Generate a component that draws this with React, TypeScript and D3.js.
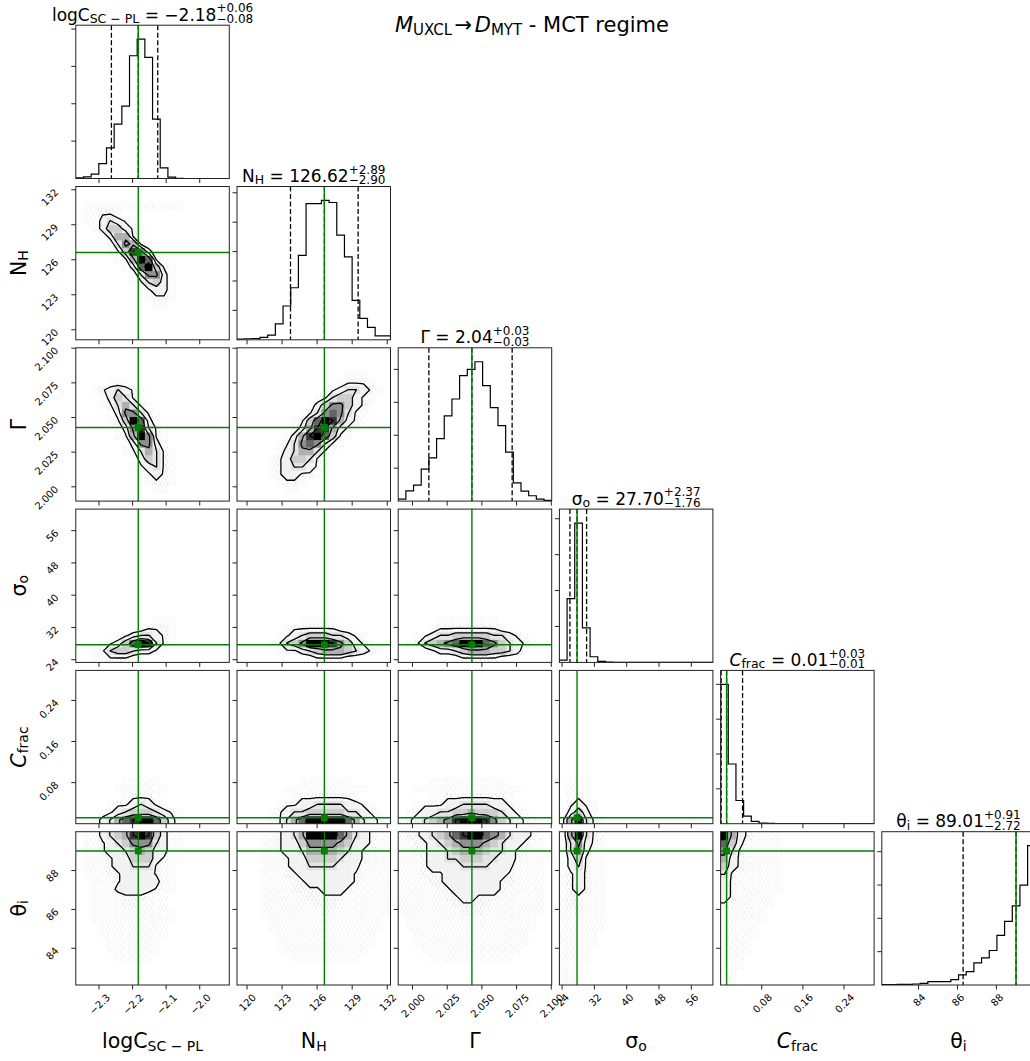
import React from 'react';
import * as d3 from 'd3';

const FIG_W = 1030;
const FIG_H = 1061;
const FONT = '"DejaVu Sans", "Liberation Sans", sans-serif';
const GREEN = '#008000';

// ---- parameters: logC_SC-PL, N_H, Gamma, sigma_o, C_frac, theta_i ----
const PARAM_RANGES: [number, number][] = [
  [-2.369, -1.912],
  [119.14, 132.28],
  [1.9897, 2.1003],
  [23.33, 61.35],
  [0.0, 0.2985],
  [82.11, 90.0],
];
const MEDIANS = [-2.183, 126.62, 2.0428, 27.7, 0.0117, 89.01];
const ERR_MINUS = [0.08, 2.9, 0.031, 1.76, 0.0107, 2.72];
const ERR_PLUS = [0.058, 2.89, 0.029, 2.37, 0.031, 0.91];

const TICKS_LOGC = [-2.3, -2.2, -2.1, -2.0];
const TICKS_NH = [120, 123, 126, 129, 132];
const TICKS_GAMMA = [2.0, 2.025, 2.05, 2.075, 2.1];
const TICKS_SIGMA = [24, 32, 40, 48, 56];
const TICKS_CFRAC = [0.08, 0.16, 0.24];
const TICKS_THETA = [84, 86, 88];
const PARAM_TICKS = [TICKS_LOGC, TICKS_NH, TICKS_GAMMA, TICKS_SIGMA, TICKS_CFRAC, TICKS_THETA];
const TICK_DECIMALS = [1, 0, 3, 0, 2, 0];

const LABEL_MAIN = ['logC', 'N', 'Γ', 'σ', 'C', 'θ'];
const LABEL_SUB = ['SC \u2212 PL', 'H', '', 'o', 'frac', 'i'];
const LABEL_ITALIC = [false, false, false, false, true, false];

// ---- 1D marginal histograms (20 bins over each range) ----
const HIST_LOGC = [30, 90, 230, 800, 1640, 2910, 3870, 6570, 7460, 6480, 3180, 570, 70, 5, 0, 0, 0, 0, 0, 0];
const HIST_NH = [20, 35, 45, 80, 160, 540, 1150, 1770, 2870, 4630, 4630, 4740, 4670, 3560, 2820, 1340, 730, 420, 135, 135];
const HIST_GAMMA = [61, 313, 485, 970, 1313, 1899, 2586, 3101, 3808, 4000, 4232, 3505, 2838, 2293, 1485, 556, 303, 162, 61, 20];
const HIST_SIGMA = [324, 8890, 19400, 4815, 787, 139, 40, 10, 5, 0, 0, 0, 0, 0, 0, 0, 0, 0, 0, 0];
const HIST_CFRAC = [20000, 8570, 3330, 1095, 333, 95, 40, 20, 10, 5, 0, 0, 0, 0, 0, 0, 0, 0, 0, 0];
const HIST_THETA = [20, 20, 40, 40, 60, 100, 200, 200, 200, 322, 603, 804, 1327, 1628, 2070, 2975, 3819, 4744, 5990, 8362];
const HISTS = [HIST_LOGC, HIST_NH, HIST_GAMMA, HIST_SIGMA, HIST_CFRAC, HIST_THETA];

// ---- 2D densities: rows from top bin (yTop) downward, columns from bin x0.
// digits = relative counts, '.' = sparse samples ----
const GRID_NH_LOGC = { x0: 1, yTop: 17, rows: [
  '.............', '..11.00000000', '..2321.000000', '0.24421.00000', '00.2551.00000',
  '000.3651.0000', '000.14862.000', '0000.15971.00', '00000.27941.0', '000000.3662.0',
  '000000.1342.0', '0000000.122.0', '00000000.11.0', '000000000..00',
] };
const GRID_GAMMA_LOGC = { x0: 2, yTop: 15, rows: [
  '00...000000', '.12321.0000', '0.2431.0000', '0.13531.000', '00.26631.00',
  '00.14972.00', '000.26831.0', '000.15961.0', '0000.2662.0', '0000.13531.',
  '00000.2431.', '00000.1231.', '000000.121.', '0000000.11.', '00000000..0',
] };
const GRID_GAMMA_NH = { x0: 4, yTop: 16, rows: [
  '0000000000...00', '000000000.111.0', '0000000.123321.', '000000.134421.0',
  '00000.2466421.0', '0000.1367631.00', '000.14798521.00', '000.2588521.000',
  '00.2589741.0000', '0.1367631.00000', '0.235531.000000', '.124431.0000000',
  '.123321.0000000', '.12211.00000000', '0.11.0000000000', '00..00000000000',
] };
const GRID_SIGMA_LOGC = { x0: 2, yTop: 5, rows: [
  '00000000...0', '000000.111.0', '000.123321.0', '0.12479831.0', '.13443221.00', '..111.000000',
] };
const GRID_SIGMA_NH = { x0: 4, yTop: 5, rows: [
  '0000.....000000', '00.111111..0000', '0.1234443321.00', '.134699986421.0',
  '0.112345554321.', '00000.1111.0000',
] };
const GRID_SIGMA_GAMMA = { x0: 1, yTop: 5, rows: [
  '0000........00000', '000.11111111.0000', '0.1233444443321.0', '.134567999764321.',
  '00.122345554432.0', '000000.11111.0000',
] };
const GRID_CFRAC_LOGC = { x0: 2, yTop: 5, rows: [
  '0000.....000', '000.......00', '0000.111.000', '00.112321.00', '0.123444321.', '.2357899742.',
] };
const GRID_CFRAC_NH = { x0: 4, yTop: 5, rows: [
  '0000.......00000', '00...........000', '000.1111111.0000', '0.11223333221.00',
  '.1233444443321.0', '.13579999975321.',
] };
const GRID_CFRAC_GAMMA = { x0: 0, yTop: 5, rows: [
  '0000..........0000', '00..............00', '0000..11111111.000', '00.111223333221.00',
  '0.12233445444321.0', '.1234568999864321.',
] };
const GRID_CFRAC_SIGMA = { x0: 0, yTop: 5, rows: [
  '0...000', '0...000', '0.1.000', '0121.00', '.242.00', '15931.0',
] };
const GRID_THETA_LOGC = { x0: 1, yTop: 19, rows: [
  '..234589842..', '..123466632..', '..122345422..', '...12244421..', '...1223331..0',
  '...1122221..0', '0...122222..0', '0...222221..0', '0....111...00', '0....11....00',
  '0...........0', '0...........0', '00.........00', '00.........00', '000.......000',
  '000.......000', '0000.....0000',
] };
const GRID_THETA_NH = { x0: 3, yTop: 19, rows: [
  '..1235999975321..', '..1224666654221..', '..122355554321...', '...12244443221...',
  '...1223333222....', '...1122222221....', '....112222221....', '....11112221.....',
  '......11111......', '.......111.......', '........1........', '0...............0',
  '0...............0', '00.............00', '00.............00', '000...........000',
  '0000.........0000',
] };
const GRID_THETA_GAMMA = { x0: 0, yTop: 19, rows: [
  '.11234578997653221.', '..112345666543221..', '..112234555433211..', '...1223344433221...',
  '...122223333222....', '...111222222221....', '....11222222211....', '.....112222221.....',
  '......1122111......', '.......11111.......', '........111........', '0.................0',
  '0.................0', '00...............00', '00...............00', '000.............000',
  '0000...........0000',
] };
const GRID_THETA_SIGMA = { x0: 0, yTop: 19, rows: [
  '.5931.0', '.3621.0', '.352..0', '.241..0', '.231..0', '.121..0', '.121..0', '.121..0',
  '.11...0', '.11...0', '..1...0', '......0', '......0', '.....00', '.....00', '....000',
  '....000', '...0000', '...0000', '...0000',
] };
const GRID_THETA_CFRAC = { x0: 0, yTop: 19, rows: [
  '9521....0', '742.....0', '631.....0', '521.....0', '421.....0', '31......0', '21......0',
  '21......0', '21.....00', '1......00', '......000', '......000', '.....0000', '.....0000',
  '....00000', '....00000', '...000000', '...000000', '..0000000', '..0000000',
] };

const GRIDS: Record<string, { x0: number; yTop: number; rows: string[] }> = {
  '1-0': GRID_NH_LOGC,
  '2-0': GRID_GAMMA_LOGC,
  '2-1': GRID_GAMMA_NH,
  '3-0': GRID_SIGMA_LOGC,
  '3-1': GRID_SIGMA_NH,
  '3-2': GRID_SIGMA_GAMMA,
  '4-0': GRID_CFRAC_LOGC,
  '4-1': GRID_CFRAC_NH,
  '4-2': GRID_CFRAC_GAMMA,
  '4-3': GRID_CFRAC_SIGMA,
  '5-0': GRID_THETA_LOGC,
  '5-1': GRID_THETA_NH,
  '5-2': GRID_THETA_GAMMA,
  '5-3': GRID_THETA_SIGMA,
  '5-4': GRID_THETA_CFRAC,
};

// ---- layout ----
const ORIGIN_X = 75.8;
const ORIGIN_Y = 25.2;
const STEP_X = 161.2;
const STEP_Y = 161.3;
const PANEL_W = 153.5;
const PANEL_H = 153.3;
const NBINS = 20;
const TICK_LEN = 4.5;
const TICK_FONT = 10;
const SPARSE = 0.3;
// contour levels at the 0.5, 1, 1.5, 2 sigma density fractions of the peak
const DENSITY_LEVELS = [2, 1.5, 1, 0.5].map((s) => Math.exp(-0.5 * s * s));

const colLeft = (c: number) => ORIGIN_X + c * STEP_X;
const rowTop = (r: number) => ORIGIN_Y + r * STEP_Y;
const xScaleOf = (p: number) =>
  d3.scaleLinear().domain(PARAM_RANGES[p]).range([colLeft(p), colLeft(p) + PANEL_W]);
const yScaleOf = (p: number) =>
  d3.scaleLinear().domain(PARAM_RANGES[p]).range([rowTop(p) + PANEL_H, rowTop(p)]);

// ---- text measuring / rich text ----
let measureCtx: CanvasRenderingContext2D | null = null;
function textWidth(t: string, size: number, italic = false) {
  if (!measureCtx) measureCtx = document.createElement('canvas').getContext('2d');
  if (!measureCtx) return t.length * size * 0.6;
  measureCtx.font = `${italic ? 'italic ' : ''}${size}px "DejaVu Sans"`;
  return measureCtx.measureText(t).width;
}

type Seg = any;
function layoutRuns(segs: Seg[]) {
  const runs: { t: string; x: number; dy: number; size: number; italic?: boolean }[] = [];
  let x = 0;
  for (const s of segs) {
    if (s.gap !== undefined) {
      x += s.gap;
    } else if (s.sup !== undefined) {
      runs.push({ t: s.sup, x, dy: s.supDy, size: s.size });
      runs.push({ t: s.sub, x, dy: s.subDy, size: s.size });
      x += Math.max(textWidth(s.sup, s.size), textWidth(s.sub, s.size));
    } else {
      runs.push({ t: s.t, x, dy: s.dy || 0, size: s.size, italic: s.italic });
      x += textWidth(s.t, s.size, s.italic);
    }
  }
  return { runs, width: x };
}

function Rich({ segs, x, y, rotate = 0 }: { segs: Seg[]; x: number; y: number; rotate?: number }) {
  const { runs, width } = layoutRuns(segs);
  return (
    <g transform={`translate(${x},${y}) rotate(${rotate}) translate(${-width / 2},0)`}>
      {runs.map((r, i) => (
        <text
          key={i}
          x={r.x}
          y={r.dy}
          fontSize={r.size}
          fontStyle={r.italic ? 'italic' : 'normal'}
          fontFamily={FONT}
          fill="#000"
          style={{ whiteSpace: 'pre' }}
        >
          {r.t}
        </text>
      ))}
    </g>
  );
}

function labelSegs(p: number, size: number, subSize: number): Seg[] {
  const segs: Seg[] = [{ t: LABEL_MAIN[p], size, italic: LABEL_ITALIC[p] }];
  if (LABEL_SUB[p]) segs.push({ t: LABEL_SUB[p], size: subSize, dy: size * 0.14 });
  return segs;
}

const minus = (s: string) => s.replace('-', '\u2212');
const fmtTick = (p: number, v: number) => minus(d3.format(`.${TICK_DECIMALS[p]}f`)(v));

// ---- 2D density helpers ----
function buildDensity(spec: { x0: number; yTop: number; rows: string[] }) {
  const n = NBINS;
  const H = new Array(n * n).fill(0);
  spec.rows.forEach((row, r) => {
    const j = spec.yTop - r;
    for (let k = 0; k < row.length; k++) {
      const i = spec.x0 + k;
      const ch = row[k];
      const v = ch === '.' ? SPARSE : +ch;
      if (i >= 0 && i < n && j >= 0 && j < n) H[i + j * n] = v;
    }
  });
  // padded grid (dense bins only); the first ring copies the border bins
  const N = n + 4;
  const P = new Array(N * N).fill(0);
  const at = (i: number, j: number) => {
    const v = H[i + j * n];
    return v > SPARSE ? v : 0;
  };
  for (let j = 0; j < n; j++) {
    for (let i = 0; i < n; i++) P[i + 2 + (j + 2) * N] = at(i, j);
    P[1 + (j + 2) * N] = at(0, j);
    P[N - 2 + (j + 2) * N] = at(n - 1, j);
  }
  for (let i = 0; i < n; i++) {
    P[i + 2 + 1 * N] = at(i, 0);
    P[i + 2 + (N - 2) * N] = at(i, n - 1);
  }
  P[1 + N] = at(0, 0);
  P[N - 2 + N] = at(n - 1, 0);
  P[1 + (N - 2) * N] = at(0, n - 1);
  P[N - 2 + (N - 2) * N] = at(n - 1, n - 1);

  const maxV = d3.max(H) || 1;
  const thresholds = DENSITY_LEVELS.map((l) => l * maxV);
  const contours = d3.contours().size([N, N]).smooth(true).thresholds(thresholds)(P);
  return { H, contours, thresholds, maxV };
}

function contourPathD(mp: any, fx: (c: number) => number, fy: (c: number) => number) {
  let d = '';
  for (const poly of mp.coordinates) {
    for (const ring of poly) {
      ring.forEach(([cx, cy]: number[], k: number) => {
        d += (k ? 'L' : 'M') + fx(cx).toFixed(2) + ',' + fy(cy).toFixed(2);
      });
      d += 'Z';
    }
  }
  return d;
}

const HAZE_DOTS = [
  [1.2, 1.5], [4.6, 0.8], [6.3, 3.9], [2.4, 4.6], [5.1, 6.2], [0.7, 6.8], [3.6, 2.9],
];

function DensityPanel({ r, c }: { r: number; c: number }) {
  const xs = xScaleOf(c);
  const ys = yScaleOf(r);
  const [xlo, xhi] = PARAM_RANGES[c];
  const [ylo, yhi] = PARAM_RANGES[r];
  const bwx = (xhi - xlo) / NBINS;
  const bwy = (yhi - ylo) / NBINS;
  const { H, contours, thresholds, maxV } = buildDensity(GRIDS[`${r}-${c}`]);
  const tOuter = thresholds[0];
  const cells: React.ReactNode[] = [];
  const haze: React.ReactNode[] = [];
  for (let j = 0; j < NBINS; j++) {
    for (let i = 0; i < NBINS; i++) {
      const v = H[i + j * NBINS];
      if (v <= 0) continue;
      const x0 = xs(xlo + i * bwx);
      const x1 = xs(xlo + (i + 1) * bwx);
      const y1 = ys(ylo + j * bwy);
      const y0 = ys(ylo + (j + 1) * bwy);
      if (v < tOuter) {
        haze.push(
          <rect key={`h${i}-${j}`} x={x0} y={y0} width={x1 - x0 + 0.3} height={y1 - y0 + 0.3}
            fill="url(#haze)" opacity={Math.min(1, 0.15 + 0.4 * v)} />
        );
      }
      const h = v / maxV;
      const g = 1 - h * h;
      if (g > 0.985) continue;
      const k = Math.round(255 * g);
      cells.push(
        <rect key={`c${i}-${j}`} x={x0} y={y0} width={x1 - x0 + 0.3} height={y1 - y0 + 0.3}
          fill={`rgb(${k},${k},${k})`} />
      );
    }
  }
  const fx = (cc: number) => xs(xlo + (cc - 2) * bwx);
  const fy = (cc: number) => ys(ylo + (cc - 2) * bwy);
  const left = colLeft(c);
  const top = rowTop(r);
  const tx = xs(MEDIANS[c]);
  const ty = ys(MEDIANS[r]);
  return (
    <g>
      <g clipPath={`url(#clip-${r}-${c})`}>
        {haze}
        {cells}
        {contours.map((mp: any, i: number) => (
          <path key={i} d={contourPathD(mp, fx, fy)} fill="none" stroke="#000" strokeWidth={1.3}
            strokeLinejoin="round" />
        ))}
        <line x1={tx} x2={tx} y1={top} y2={top + PANEL_H} stroke={GREEN} strokeWidth={1.4} />
        <line x1={left} x2={left + PANEL_W} y1={ty} y2={ty} stroke={GREEN} strokeWidth={1.4} />
        <rect x={tx - 3.4} y={ty - 3.4} width={6.8} height={6.8} fill={GREEN} />
      </g>
    </g>
  );
}

function HistPanel({ p }: { p: number }) {
  const xs = xScaleOf(p);
  const counts = HISTS[p];
  const maxC = d3.max(counts) || 1;
  const top = rowTop(p);
  const bottom = top + PANEL_H;
  const ys = d3.scaleLinear().domain([0, 1.1 * maxC]).range([bottom, top]);
  const [lo, hi] = PARAM_RANGES[p];
  const bw = (hi - lo) / counts.length;
  let d = `M${xs(lo)},${ys(0)}`;
  counts.forEach((cnt, i) => {
    d += `L${xs(lo + i * bw)},${ys(cnt)}L${xs(lo + (i + 1) * bw)},${ys(cnt)}`;
  });
  d += `L${xs(hi)},${ys(0)}`;
  const q = [MEDIANS[p] - ERR_MINUS[p], MEDIANS[p], MEDIANS[p] + ERR_PLUS[p]];
  const left = colLeft(p);
  const yTicks = d3.ticks(0, 1.1 * maxC, 5).filter((t) => t > 0);
  const titleSegs: Seg[] = [
    ...labelSegs(p, 17, 12.5),
    { t: ' = ' + minus(MEDIANS[p].toFixed(2)), size: 17 },
    { sup: '+' + ERR_PLUS[p].toFixed(2), sub: '\u2212' + ERR_MINUS[p].toFixed(2), size: 12, supDy: -8.4, subDy: 2.3 },
  ];
  return (
    <g>
      <g clipPath={`url(#clip-${p}-${p})`}>
        <path d={d} fill="none" stroke="#000" strokeWidth={1.2} />
        {q.map((v, i) => (
          <line key={i} x1={xs(v)} x2={xs(v)} y1={top} y2={bottom} stroke="#000" strokeWidth={1.3}
            strokeDasharray="5,2.5" />
        ))}
        <line x1={xs(MEDIANS[p])} x2={xs(MEDIANS[p])} y1={top} y2={bottom} stroke={GREEN} strokeWidth={1.4} />
      </g>
      {yTicks.map((t, i) => (
        <line key={i} x1={left - TICK_LEN} x2={left} y1={ys(t)} y2={ys(t)} stroke="#222" strokeWidth={1} />
      ))}
      <Rich segs={titleSegs} x={left + PANEL_W / 2} y={top - 4.5} />
    </g>
  );
}

function Axes({ r, c }: { r: number; c: number }) {
  const left = colLeft(c);
  const top = rowTop(r);
  const bottom = top + PANEL_H;
  const xs = xScaleOf(c);
  const ys = yScaleOf(r);
  const nodes: React.ReactNode[] = [];
  PARAM_TICKS[c].forEach((t, i) => {
    const x = xs(t);
    nodes.push(<line key={`xt${i}`} x1={x} x2={x} y1={bottom} y2={bottom + TICK_LEN} stroke="#222" strokeWidth={1} />);
    if (r === 5) {
      const lab = fmtTick(c, t);
      const half = (textWidth(lab, TICK_FONT) + TICK_FONT * 0.75) * 0.3536;
      nodes.push(
        <text key={`xl${i}`} transform={`translate(${x + 0.6},${bottom + 8 + half}) rotate(-45)`}
          textAnchor="middle" dominantBaseline="central" fontSize={TICK_FONT} fontFamily={FONT} fill="#000">
          {lab}
        </text>
      );
    }
  });
  if (r !== c) {
    PARAM_TICKS[r].forEach((t, i) => {
      const y = ys(t);
      nodes.push(<line key={`yt${i}`} x1={left - TICK_LEN} x2={left} y1={y} y2={y} stroke="#222" strokeWidth={1} />);
      if (c === 0) {
        const lab = fmtTick(r, t);
        const half = (textWidth(lab, TICK_FONT) + TICK_FONT * 0.75) * 0.3536;
        nodes.push(
          <text key={`yl${i}`} transform={`translate(${left - 16.5 - half},${y - 2 + half}) rotate(-45)`}
            textAnchor="middle" dominantBaseline="central" fontSize={TICK_FONT} fontFamily={FONT} fill="#000">
            {lab}
          </text>
        );
      }
    });
  }
  nodes.push(
    <rect key="frame" x={left} y={top} width={PANEL_W} height={PANEL_H} fill="none" stroke="#222" strokeWidth={1} />
  );
  return <g>{nodes}</g>;
}

export default function App() {
  const panels: React.ReactNode[] = [];
  const clips: React.ReactNode[] = [];
  for (let r = 0; r < 6; r++) {
    for (let c = 0; c <= r; c++) {
      clips.push(
        <clipPath key={`cp${r}-${c}`} id={`clip-${r}-${c}`}>
          <rect x={colLeft(c)} y={rowTop(r)} width={PANEL_W} height={PANEL_H} />
        </clipPath>
      );
      panels.push(
        <g key={`p${r}-${c}`}>
          {r === c ? <HistPanel p={r} /> : <DensityPanel r={r} c={c} />}
          <Axes r={r} c={c} />
        </g>
      );
    }
  }
  const titleSegs: Seg[] = [
    { t: 'M', size: 21, italic: true },
    { t: 'UXCL', size: 15, dy: 3 },
    { gap: 2.5 },
    { t: '→', size: 21 },
    { gap: 2.5 },
    { t: 'D', size: 21, italic: true },
    { t: 'MYT', size: 15, dy: 3 },
    { t: ' - MCT regime', size: 21 },
  ];
  return (
    <div style={{ position: 'absolute', left: 0, top: 0, width: FIG_W, height: FIG_H, background: '#fff' }}>
      <svg width={FIG_W} height={FIG_H} viewBox={`0 0 ${FIG_W} ${FIG_H}`} style={{ display: 'block' }}>
        <defs>
          <pattern id="haze" width={7.5} height={7.5} patternUnits="userSpaceOnUse">
            {HAZE_DOTS.map(([x, y], i) => (
              <circle key={i} cx={x} cy={y} r={0.6} fill="#999" />
            ))}
          </pattern>
          {clips}
        </defs>
        <rect x={0} y={0} width={FIG_W} height={FIG_H} fill="#fff" />
        {panels}
        {[0, 1, 2, 3, 4, 5].map((p) => (
          <Rich key={`xl${p}`} segs={labelSegs(p, 20.5, 14)} x={colLeft(p) + PANEL_W / 2} y={1048} />
        ))}
        {[1, 2, 3, 4, 5].map((p) => (
          <Rich key={`yl${p}`} segs={labelSegs(p, 20.5, 14)} x={25.5} y={rowTop(p) + PANEL_H / 2} rotate={-90} />
        ))}
        <Rich segs={titleSegs} x={532} y={31.5} />
      </svg>
    </div>
  );
}
